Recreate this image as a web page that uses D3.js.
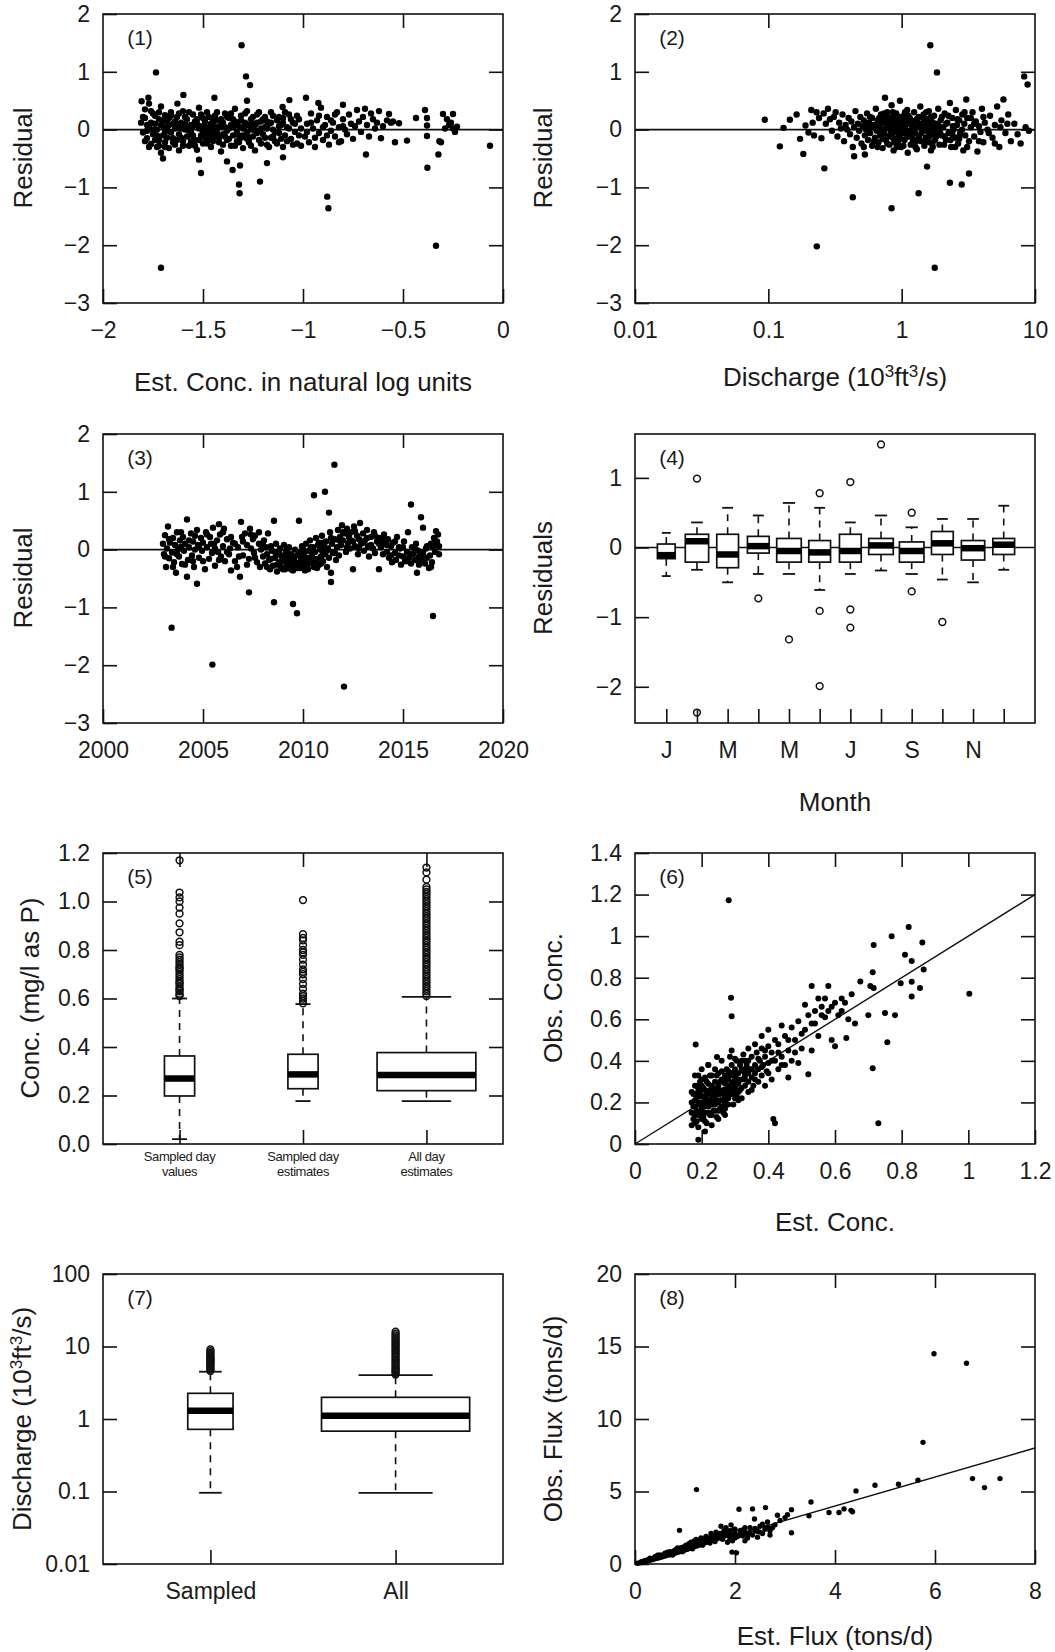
<!DOCTYPE html>
<html>
<head>
<meta charset="utf-8">
<script src="https://cdn.jsdelivr.net/npm/d3@7"></script>
<style>
    body { margin: 0; background: #fff; }
    svg text { font-family: "Liberation Sans", Arial, sans-serif; fill: #1a1a1a; }
    .tick text { font-size: 23px; }
    .title { font-size: 26px; }
    .plabel { font-size: 21px; }
</style>
</head>
<body>
<svg id="chart" width="1055" height="1652"></svg>
<script>
    // (1) residual vs est. conc (ln units)
    const p1Points = [
        [-1.81,0.12],[-1.80,-0.05],[-1.79,0.35],[-1.79,0.20],[-1.78,-0.15],[-1.77,0.05],[-1.77,0.45],[-1.76,-0.25],[-1.75,0.28],[-1.75,-0.08],
        [-1.74,0.10],[-1.73,-0.30],[-1.73,0.00],[-1.72,0.18],[-1.72,-0.18],[-1.71,0.40],[-1.71,-0.40],[-1.70,0.06],[-1.70,-0.10],[-1.69,0.25],
        [-1.69,-0.22],[-1.68,0.02],[-1.68,0.15],[-1.67,-0.32],[-1.66,-0.05],[-1.66,0.30],[-1.65,0.10],[-1.65,-0.15],[-1.64,-0.26],[-1.63,0.05],
        [-1.63,0.22],[-1.62,-0.08],[-1.62,-0.36],[-1.61,0.12],[-1.60,-0.20],[-1.60,0.32],[-1.59,0.00],[-1.58,-0.12],[-1.58,0.18],[-1.57,-0.28],
        [-1.56,0.08],[-1.56,-0.04],[-1.55,0.26],[-1.54,-0.18],[-1.54,0.14],[-1.53,-0.35],[-1.52,0.02],[-1.52,0.38],[-1.51,-0.10],[-1.50,0.20],
        [-1.50,-0.24],[-1.49,0.06],[-1.48,-0.06],[-1.48,0.30],[-1.47,-0.16],[-1.46,0.10],[-1.46,-0.30],[-1.45,0.00],[-1.44,0.24],[-1.44,-0.12],
        [-1.43,0.16],[-1.42,-0.22],[-1.42,0.04],[-1.41,-0.38],[-1.40,0.12],[-1.40,-0.08],[-1.39,0.28],[-1.38,-0.02],[-1.38,-0.18],[-1.37,0.20],
        [-1.36,0.08],[-1.36,-0.28],[-1.35,-0.10],[-1.34,0.14],[-1.34,0.36],[-1.33,-0.04],[-1.33,-0.20],[-1.32,0.06],[-1.31,0.24],[-1.31,-0.14],
        [-1.30,0.02],[-1.30,-0.32],[-1.29,0.12],[-1.28,-0.06],[-1.28,0.32],[-1.27,-0.22],[-1.26,0.18],[-1.26,0.00],[-1.25,-0.12],[-1.24,0.08],
        [-1.24,-0.36],[-1.23,0.26],[-1.22,-0.02],[-1.22,-0.18],[-1.21,0.14],[-1.20,-0.08],[-1.19,0.04],[-1.19,0.22],[-1.18,-0.26],[-1.17,0.10],
        [-1.16,-0.14],[-1.16,0.30],[-1.15,0.00],[-1.14,-0.20],[-1.13,0.16],[-1.12,-0.06],[-1.11,0.08],[-1.10,-0.30],[-1.10,0.20],[-1.09,-0.10],
        [-1.08,0.04],[-1.07,0.26],[-1.06,-0.16],[-1.05,0.12],[-1.04,-0.04],[-1.03,-0.24],[-1.02,0.18],[-1.01,0.02],
        [-1.78,-0.02],[-1.76,0.12],[-1.74,-0.18],[-1.71,0.08],[-1.69,-0.04],[-1.67,0.20],[-1.64,0.02],[-1.61,-0.14],[-1.59,0.10],[-1.57,-0.02],
        [-1.55,-0.10],[-1.53,0.18],[-1.51,0.06],[-1.49,-0.14],[-1.47,0.02],[-1.45,0.16],[-1.43,-0.06],[-1.41,0.08],[-1.39,-0.12],[-1.37,0.02],
        [-1.35,0.18],[-1.32,-0.10],[-1.29,0.06],[-1.27,-0.14],[-1.25,0.10],[-1.23,-0.06],[-1.21,0.02],[-1.18,0.14],[-1.15,-0.12],[-1.12,0.06],
        [-1.80,0.22],[-1.79,-0.20],[-1.78,0.08],[-1.77,-0.30],[-1.76,0.32],[-1.75,0.00],[-1.74,0.24],[-1.73,-0.10],[-1.72,0.30],[-1.72,-0.28],
        [-1.70,0.16],[-1.69,-0.30],[-1.68,-0.14],[-1.67,0.08],[-1.66,0.24],[-1.65,-0.22],[-1.64,0.14],[-1.63,-0.18],[-1.62,0.28],[-1.61,0.02],
        [-1.60,-0.28],[-1.59,0.22],[-1.58,0.04],[-1.57,0.30],[-1.56,-0.20],[-1.55,0.06],[-1.54,-0.28],[-1.53,0.10],[-1.52,-0.18],[-1.51,0.26],
        [-1.50,-0.04],[-1.49,0.14],[-1.48,-0.24],[-1.47,0.22],[-1.46,-0.08],[-1.45,-0.20],[-1.44,0.06],[-1.43,0.30],[-1.42,-0.14],[-1.41,0.18],
        [-1.40,-0.26],[-1.39,0.04],[-1.38,0.22],[-1.37,-0.16],[-1.36,0.28],[-1.35,0.04],[-1.34,-0.28],[-1.33,0.12],[-1.32,-0.22],[-1.31,0.16],
        [-1.30,-0.10],[-1.29,0.28],[-1.28,-0.16],[-1.27,0.08],[-1.26,-0.28],[-1.25,0.22],[-1.24,-0.02],[-1.23,0.12],[-1.22,0.30],[-1.21,-0.24],
        [-1.20,0.18],[-1.19,-0.14],[-1.18,0.02],[-1.17,-0.30],[-1.16,0.12],[-1.15,0.24],[-1.14,-0.04],[-1.13,-0.24],[-1.12,0.22],[-1.11,-0.16],
        [-1.10,0.12],[-1.09,0.30],[-1.08,-0.20],[-1.07,0.02],[-1.06,0.18],[-1.05,-0.26],[-1.04,0.10],[-1.03,0.24],[-1.02,-0.10],[-1.01,-0.28],
        [-0.98,-0.04],[-0.96,0.12],[-0.94,-0.14],[-0.92,0.24],[-0.90,0.04],[-0.88,-0.10],[-0.86,0.16],[-0.84,0.26],[-0.82,-0.22],[-0.80,0.06],
        [-1.735,0.99],[-1.71,-2.39],[-1.307,1.46],[-1.285,0.92],[-1.265,0.77],[-1.773,0.55],[-1.807,0.49],[-1.598,0.60],[-1.443,0.55],[-1.628,0.45],
        [-1.28,0.50],[-1.51,-0.75],[-1.352,-0.70],[-1.315,-0.62],[-1.32,-0.95],[-1.317,-1.10],[-1.215,-0.90],[-1.70,-0.50],[-1.52,-0.52],[-1.38,-0.55],
        [-1.18,-0.58],[-1.10,-0.48],[-1.102,0.39],[-1.068,0.51],[-0.985,0.55],[-0.923,0.46],[-0.80,0.43],
        [-0.99,-0.12],[-0.98,0.10],[-0.97,-0.22],[-0.96,0.28],[-0.95,0.02],[-0.94,-0.30],[-0.93,0.16],[-0.92,-0.06],[-0.91,0.38],[-0.90,-0.18],
        [-0.89,0.08],[-0.88,0.22],[-0.87,-0.26],[-0.86,-0.02],[-0.85,0.12],[-0.84,-0.12],[-0.83,0.30],[-0.82,0.04],[-0.81,-0.20],[-0.80,0.18],
        [-0.79,0.00],[-0.78,-0.08],[-0.77,0.26],[-0.76,0.10],[-0.75,-0.16],[-0.74,0.06],[-0.73,0.34],[-0.72,0.14],[-0.71,-0.04],[-0.70,0.22],
        [-0.69,0.36],[-0.68,0.08],[-0.67,-0.12],[-0.66,0.28],[-0.65,0.18],[-0.64,0.02],[-0.63,0.12],[-0.62,0.32],[-0.61,-0.15],[-0.60,0.06],
        [-0.58,0.16],[-0.57,0.27],[-0.56,0.12],[-0.55,0.14],[-0.54,-0.22],[-0.52,0.11],[-0.48,-0.19],[-0.685,-0.43],[-0.879,-1.16],[-0.873,-1.36],
        [-0.435,0.20],[-0.39,0.34],[-0.38,0.20],[-0.38,0.07],[-0.38,-0.11],[-0.378,-0.66],[-0.335,-2.01],[-0.323,-0.43],[-0.318,-0.20],[-0.30,0.27],
        [-0.28,0.18],[-0.27,0.08],[-0.26,0.12],[-0.25,0.27],[-0.25,0.02],[-0.24,-0.04],[-0.23,0.05],[-0.065,-0.28],[-0.31,-0.22],[-0.29,0.02]
    ];

    // (2) residual vs discharge (10^3 ft3/s)
    const p2Points = [
        [0.094,0.17],[0.122,-0.29],[0.13,0.03],[0.145,0.17],[0.163,0.26],[0.173,-0.16],[0.183,-0.42],[0.19,0.07],[0.20,-0.05],[0.21,0.34],
        [0.215,0.12],[0.22,-0.10],[0.23,0.30],[0.231,-2.02],[0.24,0.20],[0.25,-0.15],[0.26,0.28],[0.263,-0.67],[0.27,0.10],[0.28,0.36],
        [0.29,0.18],[0.30,-0.02],[0.31,0.22],[0.32,0.30],
        [0.33,-0.12],[0.34,0.12],[0.35,0.02],[0.36,0.26],[0.37,-0.20],[0.38,0.08],[0.39,0.00],[0.40,0.20],[0.41,-0.08],[0.42,0.14],
        [0.43,-1.17],[0.43,-0.30],[0.44,-0.46],[0.44,0.04],[0.45,0.32],[0.46,-0.14],[0.47,0.10],[0.48,-0.02],[0.49,0.22],[0.50,-0.24],
        [0.51,0.06],[0.52,0.16],[0.53,-0.43],[0.53,-0.10],[0.54,0.00],[0.55,0.28],[0.56,-0.18],[0.57,0.12],[0.58,-0.06],[0.59,0.04],
        [0.60,-0.28],[0.60,0.20],
        [0.62,0.08],[0.63,-0.14],[0.64,0.36],[0.65,-0.02],[0.66,0.16],[0.67,-0.22],[0.68,0.06],[0.69,-0.10],[0.70,0.26],[0.71,0.00],
        [0.72,-0.32],[0.73,0.12],[0.74,-0.06],[0.75,0.55],[0.75,0.20],[0.76,-0.18],[0.77,0.04],[0.78,0.30],[0.79,-0.12],[0.80,0.10],
        [0.81,-0.26],[0.82,0.16],[0.83,-0.02],[0.84,-1.36],[0.84,0.42],[0.85,-0.08],[0.86,0.22],[0.87,-0.36],[0.88,0.02],[0.89,0.12],
        [0.90,-0.16],[0.91,0.28],[0.92,-0.04],[0.93,0.08],[0.94,-0.24],[0.95,0.18],[0.96,-0.10],[0.97,0.50],[0.98,0.04],[0.99,-0.30],
        [1.00,0.14],[1.02,-0.06],[1.04,0.24],[1.05,-0.18],[1.06,0.06],[1.08,-0.02],[1.10,0.34],[1.11,-0.40],[1.12,0.10],[1.14,-0.12],
        [1.15,0.20],[1.17,-0.26],[1.18,0.00],
        [1.20,0.08],[1.22,-0.16],[1.24,0.30],[1.26,-0.06],[1.28,0.14],[1.30,-0.34],[1.32,0.04],[1.34,-1.10],[1.34,0.22],[1.36,-0.10],
        [1.38,0.40],[1.40,-0.20],[1.42,0.10],[1.44,-0.02],[1.46,0.26],[1.48,-0.28],[1.50,0.06],[1.52,-0.14],[1.55,-0.64],[1.55,0.18],
        [1.58,-0.04],[1.60,0.32],[1.62,-0.22],[1.64,1.46],[1.64,0.08],[1.66,-0.36],[1.68,0.14],[1.70,-0.08],[1.72,0.02],[1.75,0.24],
        [1.77,-2.39],[1.78,-0.18],[1.80,0.10],[1.84,0.99],[1.84,-0.02],[1.88,0.36],[1.92,-0.26],[1.96,0.16],[2.00,-0.10],[2.05,0.04],
        [2.10,0.28],[2.15,-0.18],[2.20,0.12],[2.25,-0.06],[2.30,-0.92],[2.30,0.46],[2.35,-0.30],[2.40,0.20],[2.45,0.00],[2.50,-0.14],
        [2.55,0.34],[2.60,0.08],[2.65,-0.24],[2.70,0.16],[2.75,-0.04],[2.82,-0.95],[2.85,0.26],[2.90,-0.36],[2.95,0.10],
        [0.70,-0.08],[0.78,0.12],[0.86,-0.14],[0.95,0.02],[1.05,0.16],[1.16,-0.08],[1.28,-0.20],[1.40,0.04],[1.52,0.14],[1.70,-0.24],
        [1.90,0.06],[2.10,-0.12],[2.40,-0.08],[2.70,-0.16],
        [0.52,-0.30],[0.55,0.10],[0.58,0.22],[0.62,-0.20],[0.64,0.02],[0.66,-0.30],[0.68,0.20],[0.70,0.12],[0.72,-0.16],[0.74,0.28],
        [0.76,0.02],[0.78,-0.24],[0.80,0.20],[0.82,-0.10],[0.84,0.06],[0.86,0.30],[0.88,-0.22],[0.90,0.14],[0.92,-0.30],[0.94,0.04],
        [0.96,0.22],[0.98,-0.16],[1.00,0.00],[1.03,-0.28],[1.06,0.30],[1.09,-0.12],[1.12,0.24],[1.15,-0.04],[1.18,0.16],[1.21,-0.22],
        [1.24,0.04],[1.27,-0.30],[1.30,0.18],[1.33,-0.16],[1.37,0.10],[1.41,-0.06],[1.45,0.20],[1.49,-0.20],[1.53,0.30],[1.57,0.00],
        [1.61,-0.12],[1.66,0.22],[1.71,-0.30],[1.76,0.10],[1.82,-0.12],[1.88,0.06],[1.94,-0.06],[2.00,0.22],[2.08,-0.26],[2.16,0.10],
        [2.24,0.24],[2.32,-0.18],[2.42,0.06],[2.52,-0.30],[2.62,0.18],[2.72,-0.10],[2.84,0.00],[2.96,0.30],[3.10,-0.30],[3.30,0.20],
        [3.50,0.10],[3.80,-0.20],[4.10,0.22],[4.50,-0.06],[5.00,-0.24],[5.50,0.04],[6.20,0.10],
        [3.00,-0.10],[3.05,0.52],[3.10,0.20],[3.20,-0.76],[3.20,-0.20],[3.30,0.04],[3.40,0.30],[3.50,-0.12],[3.60,0.14],[3.70,-0.38],
        [3.80,0.06],[3.90,-0.04],[4.00,0.36],[4.10,-0.22],[4.20,0.12],[4.40,0.00],[4.60,0.24],[4.80,-0.14],[5.00,0.08],[5.20,0.40],
        [5.40,-0.30],[5.60,0.16],[5.80,0.52],[6.00,-0.06],[6.30,0.26],[6.60,-0.20],[7.00,0.10],[7.40,-0.08],[7.80,-0.24],[8.30,0.92],
        [8.80,0.78],[8.50,0.04],[9.00,-0.02]
    ];

    // (3) residual vs decimal year
    const p3Points = [
        [2003.0,0.10],[2003.05,-0.08],[2003.1,0.25],[2003.15,-0.30],[2003.2,0.02],[2003.25,0.40],[2003.3,-0.15],[2003.35,0.12],[2003.43,-1.35],[2003.45,-0.05],
        [2003.5,0.20],[2003.55,-0.22],[2003.6,0.08],[2003.65,-0.40],[2003.7,0.30],[2003.75,0.00],[2003.8,-0.12],[2003.85,0.16],[2003.9,0.05],[2003.95,-0.25],
        [2004.0,0.22],[2004.05,-0.02],[2004.1,0.10],[2004.2,-0.47],[2004.2,0.52],[2004.25,-0.18],[2004.3,0.04],[2004.4,0.28],[2004.45,-0.10],[2004.5,0.14],
        [2004.55,-0.30],[2004.6,0.00],[2004.7,-0.59],[2004.7,0.34],[2004.75,0.08],[2004.8,-0.14],[2004.9,0.20],[2004.95,-0.02],
        [2005.0,0.12],[2005.1,-0.34],[2005.15,0.30],[2005.2,0.04],[2005.3,-0.16],[2005.35,0.22],[2005.47,-1.99],[2005.45,-0.06],[2005.5,0.38],[2005.55,0.10],
        [2005.6,-0.28],[2005.7,0.16],[2005.75,-0.04],[2005.8,0.44],[2005.85,0.26],[2005.9,-0.12],[2006.0,0.06],[2006.05,0.36],[2006.1,-0.20],[2006.2,0.18],
        [2006.3,-0.08],[2006.35,0.02],[2006.4,-0.36],[2006.5,0.12],[2006.6,-0.20],[2006.7,-0.30],[2006.75,0.04],[2006.85,-0.47],[2006.9,0.48],[2006.95,0.22],
        [2007.0,-0.10],[2007.1,0.28],[2007.2,0.08],[2007.3,-0.74],[2007.3,-0.16],[2007.35,0.36],[2007.4,0.02],[2007.5,0.18],[2007.55,-0.06],[2007.6,0.24],
        [2007.7,-0.22],[2007.8,0.10],[2007.85,-0.30],[2007.9,0.00],
        [2008.0,-0.12],[2008.05,0.16],[2008.1,-0.24],[2008.15,0.04],[2008.2,-0.08],[2008.25,0.28],[2008.3,-0.18],[2008.35,-0.34],[2008.4,0.06],[2008.45,-0.02],
        [2008.5,-0.28],[2008.55,-0.91],[2008.55,0.50],[2008.6,-0.14],[2008.65,0.10],[2008.7,-0.38],[2008.75,-0.06],[2008.8,-0.22],[2008.85,0.02],[2008.9,-0.30],
        [2008.95,-0.12],[2009.0,-0.20],[2009.05,0.08],[2009.1,-0.34],[2009.15,-0.04],[2009.2,-0.26],[2009.25,-0.14],[2009.3,0.04],[2009.35,-0.30],[2009.4,-0.08],
        [2009.45,-0.22],[2009.5,-0.94],[2009.5,-0.36],[2009.55,-0.16],[2009.6,0.00],[2009.65,-0.28],[2009.7,-1.10],[2009.7,-0.10],[2009.75,-0.24],[2009.8,0.50],
        [2009.85,-0.32],[2009.9,-0.18],[2009.95,0.06],[2010.0,-0.26],[2010.05,-0.06],[2010.1,-0.20],[2010.15,0.10],[2010.2,-0.14],[2010.25,-0.34],[2010.3,-0.02],
        [2010.35,0.16],[2010.4,-0.22],[2010.45,-0.10],[2010.5,0.04],[2010.55,0.94],[2010.55,-0.30],[2010.6,-0.04],[2010.65,0.20],[2010.7,-0.16],[2010.75,0.08],
        [2010.8,-0.26],[2010.85,0.00],[2010.9,-0.12],[2010.95,0.24],[2011.0,-0.20],[2011.05,0.06],[2011.1,1.00],[2011.1,-0.08],[2011.15,0.14],[2011.2,-0.30],
        [2011.25,0.02],[2011.3,0.64],[2011.3,-0.14],[2011.35,0.30],[2011.4,-0.56],[2011.4,-0.40],[2011.45,0.10],[2011.5,-0.06],[2011.57,1.47],[2011.6,0.18],
        [2011.65,-0.18],[2009.3,-0.20],[2009.9,-0.28],[2010.2,-0.30],[2010.6,-0.20],[2008.8,-0.04],[2010.0,-0.10],[2011.0,-0.04],
        [2011.7,0.04],[2011.75,0.34],[2011.8,-0.10],[2011.85,0.22],[2011.9,0.08],[2011.95,0.42],[2012.05,-2.37],[2012.0,0.16],[2012.1,0.28],[2012.15,-0.04],
        [2012.2,0.36],[2012.25,0.12],[2012.3,0.22],[2012.35,0.02],[2012.4,0.30],[2012.5,-0.34],[2012.5,0.14],[2012.55,0.40],[2012.6,0.06],[2012.7,0.24],
        [2012.75,-0.08],[2012.8,0.18],[2012.85,0.46],[2012.9,0.10],[2013.0,0.28],[2013.05,-0.02],[2013.1,0.16],[2013.2,0.34],[2013.25,0.06],[2013.3,-0.12],
        [2013.4,0.22],[2013.5,0.02],[2013.55,0.30],[2013.6,-0.06],[2013.7,0.14],[2013.8,-0.34],[2013.8,0.20],[2013.9,0.04],[2014.0,-0.08],
        [2014.05,0.26],[2014.1,0.10],[2014.2,-0.04],[2014.25,0.18],[2014.3,-0.14],[2014.4,0.06],[2014.45,-0.22],[2014.5,0.12],[2014.6,-0.06],[2014.65,-0.18],
        [2014.7,0.22],[2014.8,-0.10],[2014.85,0.02],[2014.9,-0.26],[2015.0,-0.12],[2015.05,0.14],[2015.1,-0.20],[2015.2,-0.04],[2015.25,0.30],[2015.3,-0.14],
        [2015.4,0.78],[2015.4,-0.24],[2015.45,0.04],[2015.5,-0.08],[2015.6,-0.18],[2015.65,0.10],[2015.7,-0.40],[2015.75,-0.02],[2015.8,-0.12],[2015.9,0.56],
        [2015.9,-0.20],[2016.0,0.38],[2016.0,-0.06],[2016.1,-0.24],[2016.15,0.02],[2016.2,-0.14],[2016.3,-0.32],[2016.35,-0.10],[2016.4,0.10],[2016.45,-0.22],
        [2016.5,-1.15],[2016.5,0.04],[2016.55,0.20],[2016.6,-0.04],[2016.65,0.32],[2016.7,0.14],[2016.75,0.26],[2016.8,-0.08],
        [2003.1,-0.12],[2003.3,0.18],[2003.5,-0.30],[2003.7,-0.08],[2003.9,0.30],[2004.1,-0.26],[2004.3,0.16],[2004.5,-0.20],[2004.6,0.24],[2004.8,0.06],
        [2005.0,-0.20],[2005.2,0.26],[2005.4,0.10],[2005.6,0.02],[2005.8,-0.18],[2006.0,0.30],[2006.2,-0.04],[2006.4,0.22],[2006.6,0.10],[2006.8,-0.12],
        [2007.0,0.14],[2007.2,-0.26],[2007.4,0.26],[2007.6,-0.14],[2007.8,0.30],[2008.0,0.08],[2008.2,-0.30],[2008.4,-0.16],[2008.6,-0.04],[2008.7,-0.26],
        [2008.9,-0.10],[2009.0,-0.34],[2009.1,-0.12],[2009.2,0.00],[2009.4,-0.34],[2009.6,-0.22],[2009.7,-0.32],[2009.8,-0.06],[2010.0,0.02],[2010.1,-0.36],
        [2010.3,-0.24],[2010.4,0.04],[2010.5,-0.18],[2010.7,-0.32],[2010.8,0.12],[2010.9,-0.24],[2011.0,0.12],[2011.2,-0.02],[2011.4,0.20],[2011.6,-0.06],
        [2011.8,0.16],[2012.0,0.30],[2012.2,0.04],[2012.4,0.16],[2012.6,0.32],[2012.8,0.02],[2013.0,0.12],[2013.2,0.20],[2013.4,0.08],[2013.6,0.24],
        [2013.8,0.10],[2014.0,0.18],[2014.2,0.08],[2014.4,-0.10],[2014.6,0.14],[2014.8,0.04],[2015.0,0.04],[2015.2,-0.20],[2015.4,-0.08],[2015.6,0.02],
        [2015.8,-0.26],[2016.0,-0.16],[2016.2,0.06],[2016.4,-0.30],[2016.6,0.10],[2016.8,0.06]
    ];

    // (4) residuals by month
    const p4Months = ["J", "F", "M", "A", "M", "J", "J", "A", "S", "O", "N", "D"];
    const p4Shown = ["J", "", "M", "", "M", "", "J", "", "S", "", "N", ""];
    const p4N = [22, 38, 33, 33, 42, 33, 33, 42, 42, 33, 38, 33];
    const p4Lo = [-0.41, -0.32, -0.50, -0.38, -0.38, -0.61, -0.38, -0.33, -0.38, -0.46, -0.50, -0.32];
    const p4Q1 = [-0.16, -0.21, -0.29, -0.08, -0.21, -0.21, -0.21, -0.10, -0.21, -0.10, -0.18, -0.10];
    const p4Med = [-0.11, 0.09, -0.10, 0.02, -0.05, -0.07, -0.05, 0.03, -0.05, 0.06, -0.01, 0.04];
    const p4Q3 = [0.05, 0.19, 0.19, 0.16, 0.13, 0.10, 0.19, 0.13, 0.08, 0.23, 0.10, 0.13];
    const p4Hi = [0.21, 0.36, 0.57, 0.46, 0.64, 0.57, 0.36, 0.46, 0.29, 0.41, 0.41, 0.60];
    const p4Out = [[], [0.99, -2.37], [], [-0.73], [-1.32], [0.78, -0.91, -1.99], [0.94, -0.89, -1.15], [1.48], [0.50, -0.63], [-1.07], [], []];

    // (5) concentration boxplots
    const p5Groups = [["Sampled day", "values"], ["Sampled day", "estimates"], ["All day", "estimates"]];
    const p5N = [430, 430, 4600];
    const p5Lo = [0.02, 0.177, 0.177];
    const p5Q1 = [0.198, 0.228, 0.22];
    const p5Med = [0.27, 0.287, 0.285];
    const p5Q3 = [0.363, 0.37, 0.377];
    const p5Hi = [0.60, 0.577, 0.607];
    const p5Out = [
        [0.61,0.615,0.62,0.63,0.635,0.64,0.65,0.66,0.665,0.67,0.68,0.69,0.70,0.71,0.72,0.725,0.73,0.74,0.75,0.76,0.77,0.78,0.82,0.834,0.873,0.91,0.95,0.975,1.0,1.017,1.037,1.17],
        [0.58,0.59,0.60,0.61,0.62,0.64,0.66,0.68,0.70,0.71,0.72,0.74,0.76,0.78,0.79,0.80,0.82,0.84,0.85,0.865,1.006],
        [0.61,0.62,0.63,0.64,0.65,0.66,0.67,0.68,0.69,0.70,0.71,0.72,0.73,0.74,0.75,0.76,0.77,0.78,0.79,0.80,0.81,0.82,0.83,0.84,0.85,
         0.86,0.87,0.88,0.89,0.90,0.91,0.92,0.93,0.94,0.95,0.96,0.97,0.98,0.99,1.00,1.01,1.02,1.03,1.04,1.05,1.06,1.09,1.12,1.14]
    ];

    // (6) observed vs estimated concentration
    const p6Points = [
        [0.17,0.20],[0.17,0.15],[0.175,0.24],[0.175,0.12],[0.18,0.18],[0.18,0.28],[0.18,0.10],[0.185,0.22],[0.185,0.16],[0.19,0.02],
        [0.19,0.26],[0.19,0.14],[0.195,0.20],[0.195,0.30],[0.20,0.17],[0.20,0.23],[0.20,0.12],[0.205,0.27],[0.205,0.19],[0.21,0.15],
        [0.21,0.32],[0.21,0.22],[0.215,0.10],[0.215,0.25],[0.22,0.18],[0.22,0.29],[0.22,0.38],[0.225,0.21],[0.225,0.14],[0.23,0.24],
        [0.23,0.33],[0.23,0.19],[0.235,0.27],[0.235,0.16],[0.24,0.22],[0.24,0.30],[0.24,0.36],[0.245,0.13],[0.245,0.25],[0.25,0.20],
        [0.25,0.28],[0.25,0.34],[0.255,0.17],[0.255,0.24],[0.26,0.31],[0.26,0.21],[0.26,0.40],[0.265,0.26],[0.265,0.15],[0.27,0.23],
        [0.27,0.33],[0.27,0.29],[0.275,0.19],[0.275,0.36],[0.28,0.26],[0.28,0.31],[0.28,0.22],[0.285,0.42],[0.285,0.28],[0.29,0.34],
        [0.29,0.24],[0.29,0.45],[0.295,0.30],[0.295,0.19],[0.30,0.27],[0.30,0.36],[0.30,0.32],[0.305,0.23],[0.305,0.40],[0.31,0.29],
        [0.31,0.34],[0.315,0.26],[0.315,0.38],[0.32,0.31],[0.32,0.22],[0.325,0.35],[0.325,0.43],[0.33,0.28],[0.33,0.33],[0.335,0.38],
        [0.34,0.30],[0.34,0.25],[0.345,0.36],[0.35,0.42],[0.35,0.32],[0.355,0.28],[0.36,0.38],[0.36,0.34],[0.365,0.44],[0.37,0.30],
        [0.37,0.36],[0.375,0.40],[0.38,0.33],[0.38,0.46],[0.385,0.38],[0.39,0.28],[0.39,0.42],[0.395,0.35],[0.40,0.39],[0.40,0.47],
        [0.41,0.31],[0.41,0.44],[0.415,0.12],[0.42,0.10],[0.42,0.40],[0.43,0.36],[0.43,0.48],[0.44,0.42],[0.45,0.38],[0.45,0.52],
        [0.46,0.32],[0.46,0.45],[0.47,0.56],[0.47,0.40],[0.48,0.50],[0.49,0.39],[0.49,0.59],[0.50,0.46],[0.50,0.53],[0.51,0.67],
        [0.52,0.335],[0.52,0.62],[0.53,0.45],[0.53,0.58],[0.53,0.76],[0.54,0.64],[0.55,0.70],[0.55,0.52],[0.56,0.66],[0.57,0.61],
        [0.58,0.76],[0.58,0.64],[0.59,0.50],[0.60,0.47],[0.60,0.68],[0.61,0.62],[0.62,0.70],[0.634,0.51],[0.64,0.60],[0.65,0.72],
        [0.66,0.58],[0.676,0.782],[0.70,0.62],[0.706,0.76],[0.713,0.826],[0.713,0.365],[0.716,0.957],[0.716,0.75],[0.73,0.10],[0.75,0.63],
        [0.757,0.49],[0.77,1.0],[0.78,0.62],[0.797,0.773],[0.81,0.91],[0.821,1.044],[0.83,0.88],[0.83,0.78],[0.83,0.71],[0.855,0.75],
        [0.862,0.97],[0.866,0.84],[1.003,0.723],[0.281,1.173],[0.182,0.479],[0.288,0.704],[0.29,0.615],[0.246,0.418],[0.22,0.38],
        [0.18,0.24],[0.19,0.19],[0.20,0.28],[0.21,0.18],[0.22,0.24],[0.23,0.14],[0.24,0.19],[0.25,0.24],[0.26,0.18],[0.27,0.20],
        [0.28,0.35],[0.29,0.29],[0.30,0.22],[0.31,0.25],[0.32,0.36],[0.33,0.40],[0.34,0.46],[0.19,0.08],[0.21,0.06],[0.23,0.09],
        [0.25,0.12],[0.27,0.14],[0.18,0.33],[0.20,0.36],[0.35,0.26],[0.36,0.48],[0.38,0.52],[0.40,0.55],[0.42,0.50],[0.44,0.57],
        [0.17,0.25],[0.17,0.09],[0.175,0.18],[0.18,0.14],[0.18,0.21],[0.185,0.28],[0.185,0.11],[0.19,0.23],[0.19,0.33],[0.195,0.15],
        [0.195,0.25],[0.20,0.20],[0.20,0.31],[0.205,0.13],[0.205,0.23],[0.21,0.26],[0.21,0.11],[0.215,0.20],[0.215,0.30],[0.22,0.15],
        [0.22,0.21],[0.225,0.26],[0.225,0.33],[0.23,0.21],[0.23,0.28],[0.235,0.19],[0.235,0.23],[0.24,0.26],[0.24,0.16],[0.245,0.33],
        [0.245,0.21],[0.25,0.26],[0.25,0.16],[0.255,0.30],[0.255,0.21],[0.26,0.25],[0.26,0.35],[0.265,0.21],[0.265,0.30],[0.27,0.26],
        [0.27,0.17],[0.275,0.25],[0.275,0.31],[0.28,0.28],[0.28,0.19],[0.285,0.24],[0.285,0.33],[0.29,0.26],[0.29,0.38],[0.295,0.25],
        [0.295,0.34],[0.30,0.29],[0.30,0.41],[0.31,0.31],[0.31,0.21],[0.32,0.27],[0.32,0.40],[0.33,0.31],[0.33,0.36],[0.34,0.34],
        [0.34,0.40],[0.35,0.36],[0.36,0.31],[0.37,0.41],[0.38,0.37],[0.39,0.45],[0.40,0.34],[0.41,0.40],[0.43,0.44],[0.44,0.38],
        [0.46,0.50],[0.48,0.44],[0.51,0.55],[0.54,0.58],[0.56,0.62],[0.57,0.70],[0.59,0.66],[0.62,0.64],[0.63,0.68]
    ];

    // (7) discharge boxplots (log scale)
    const p7Groups = ["Sampled", "All"];
    const p7N = [430, 4600];
    const p7Lo = [0.096, 0.096];
    const p7Q1 = [0.72, 0.68];
    const p7Med = [1.30, 1.11];
    const p7Q3 = [2.26, 1.99];
    const p7Hi = [4.49, 4.04];
    const p7Out = [
        [4.6,4.8,5.0,5.2,5.4,5.6,5.8,6.0,6.2,6.4,6.6,6.8,7.0,7.3,7.6,7.9,8.2,8.6,9.1],
        [4.1,4.3,4.5,4.7,4.9,5.1,5.4,5.7,6.0,6.3,6.6,7.0,7.4,7.8,8.2,8.6,9.0,9.5,10,10.5,11,11.6,12.2,12.8,13.5,14.2,15,16]
    ];

    // (8) observed vs estimated flux
    const p8Points = [
        [0.05,0.05],[0.1,0.08],[0.12,0.15],[0.15,0.12],[0.18,0.2],[0.2,0.16],[0.22,0.25],[0.25,0.22],[0.28,0.3],[0.3,0.26],
        [0.32,0.35],[0.35,0.3],[0.38,0.4],[0.4,0.36],[0.42,0.45],[0.45,0.4],[0.48,0.5],[0.5,0.44],[0.52,0.58],[0.55,0.5],
        [0.58,0.62],[0.6,0.55],[0.62,0.7],[0.65,0.6],[0.68,0.74],[0.7,0.64],[0.72,0.8],[0.75,0.68],[0.78,0.9],[0.8,0.74],
        [0.82,0.98],[0.85,0.8],[0.88,1.05],[0.89,2.32],[0.9,0.86],[0.92,1.12],[0.95,0.9],[0.98,1.2],[1.0,0.96],[1.02,1.3],
        [1.05,1.02],[1.08,1.4],[1.1,1.08],[1.12,1.5],[1.15,1.14],[1.18,1.58],[1.2,1.2],[1.22,1.7],[1.23,5.13],[1.25,1.26],
        [1.28,1.62],[1.3,1.32],[1.32,1.8],[1.35,1.4],[1.38,1.72],[1.4,1.46],[1.42,1.9],[1.45,1.52],[1.48,1.8],[1.5,1.58],
        [1.52,2.1],[1.55,1.64],[1.58,1.92],[1.6,1.7],[1.62,2.2],[1.65,1.76],[1.68,2.0],[1.7,1.82],[1.72,2.6],[1.75,1.9],
        [1.78,2.3],[1.8,1.96],[1.82,2.5],[1.85,1.5],[1.88,2.2],[1.9,2.06],[1.92,2.7],[1.94,0.82],[1.95,1.6],[1.98,2.4],
        [2.0,2.1],[2.03,0.77],[2.05,1.9],[2.08,3.78],[2.1,2.3],[2.15,1.95],[2.2,2.2],[2.25,1.8],[2.3,2.5],[2.35,3.8],
        [2.35,2.0],[2.39,3.1],[2.4,2.3],[2.45,1.85],[2.5,2.6],[2.55,2.1],[2.61,3.89],[2.6,2.4],[2.65,2.9],[2.7,2.0],
        [2.75,2.5],[2.85,3.36],[2.9,3.0],[3.0,3.2],[3.05,3.4],[3.13,3.75],[3.13,2.16],[3.48,3.32],[3.52,4.28],[3.88,3.55],
        [4.08,3.55],[4.18,3.8],[4.32,3.7],[4.35,3.6],[4.42,5.04],[4.8,5.43],[5.27,5.5],[5.66,5.78],[5.76,8.39],[5.98,14.5],
        [6.63,13.85],[6.75,5.89],[6.99,5.27],[7.30,5.89],
        [0.3,0.4],[0.4,0.5],[0.5,0.62],[0.6,0.75],[0.7,0.85],[0.8,0.95],[0.9,1.0],[1.0,1.15],[1.1,1.3],[1.2,1.45],
        [1.3,1.55],[1.4,1.65],[1.5,1.75],[1.6,1.9],[1.7,2.1],[1.8,2.2],[0.45,0.6],[0.65,0.82],[0.85,1.1],[1.05,1.25],
        [1.25,1.5],[1.45,1.7],[1.65,1.95],[1.85,2.05],[2.0,1.8],[2.1,2.0],[2.2,2.5],[2.3,2.15],[2.45,2.25],[2.55,2.75],
        [2.7,2.3],[2.2,1.6],[1.9,1.75],
        [0.15,0.18],[0.2,0.22],[0.25,0.28],[0.3,0.33],[0.35,0.37],[0.4,0.44],[0.45,0.5],[0.5,0.55],[0.55,0.6],[0.6,0.66],
        [0.65,0.72],[0.7,0.76],[0.75,0.82],[0.8,0.86],[0.85,0.92],[0.9,0.96],[0.95,1.05],[1.0,1.08],[1.05,1.15],[1.1,1.2],
        [1.15,1.28],[1.2,1.32],[1.25,1.38],[1.3,1.44],[1.35,1.5],[1.4,1.56],[1.45,1.6],[1.5,1.66],[1.55,1.72],[1.6,1.8],
        [1.65,1.85],[1.7,1.9],[1.75,2.0],[1.8,2.05],[1.85,2.15],[1.9,2.3],[1.95,2.0],[2.0,2.4],[1.75,1.7],[1.6,1.55],
        [1.5,1.45],[1.35,1.3],[1.15,1.05],[0.95,0.85],[0.75,0.62],[2.15,2.35],[2.25,2.05],[2.4,2.45],[2.5,2.2],[2.65,2.55],
        [2.8,2.7]
    ];

    const svg = d3.select("#chart");
    const W = 400;
    const TICK = 14;
    const INK = "#111";

    function panel(left, top) {
        return svg.append("g").attr("transform", `translate(${left},${top})`);
    }

    function frame(g, x, y, h, o) {
        g.append("g")
            .attr("transform", `translate(0,${h})`)
            .call(d3.axisBottom(x).tickValues(o.xTicks).tickFormat(o.xFmt).tickSize(-TICK).tickPadding(o.xPad || 19));
        g.append("g")
            .call(d3.axisLeft(y).tickValues(o.yTicks).tickFormat(o.yFmt).tickSize(-TICK).tickPadding(13));
        if (o.top)
            g.append("g").call(d3.axisTop(x).tickValues(o.top).tickFormat("").tickSize(-TICK));
        if (o.right)
            g.append("g").attr("transform", `translate(${W},0)`)
                .call(d3.axisRight(y).tickValues(o.right).tickFormat("").tickSize(-TICK));
        g.selectAll(".domain").remove();
        g.selectAll(".tick line").attr("stroke", INK).attr("stroke-width", 1.6);
        g.append("rect").attr("width", W).attr("height", h)
            .attr("fill", "none").attr("stroke", INK).attr("stroke-width", 1.6);
        g.append("text").attr("class", "plabel")
            .attr("x", 37).attr("y", 31).attr("text-anchor", "middle")
            .text(o.label);
    }

    function zeroLine(g, y) {
        g.append("line").attr("x1", 0).attr("x2", W)
            .attr("y1", y(0)).attr("y2", y(0))
            .attr("stroke", INK).attr("stroke-width", 1.6);
    }

    function dots(g, x, y, pts, r) {
        g.append("g").selectAll("circle").data(pts).join("circle")
            .attr("cx", d => x(d[0])).attr("cy", d => y(d[1]))
            .attr("r", r).attr("fill", "#000");
    }

    function xTitle(parts, cx, base) {
        const t = svg.append("text").attr("class", "title")
            .attr("x", cx).attr("y", base).attr("text-anchor", "middle");
        addParts(t, parts);
    }

    function yTitle(parts, cx, cy) {
        const t = svg.append("text").attr("class", "title")
            .attr("transform", `translate(${cx + 9},${cy}) rotate(-90)`)
            .attr("text-anchor", "middle");
        addParts(t, parts);
    }

    // parts: strings, or {sup: "3"}
    function addParts(t, parts) {
        let raised = false;
        parts.forEach(p => {
            if (typeof p === "string") {
                t.append("tspan").attr("dy", raised ? 9 : 0).text(p);
                raised = false;
            } else {
                t.append("tspan").attr("dy", raised ? 0 : -9).attr("font-size", 17).text(p.sup);
                raised = true;
            }
        });
    }

    function boxes(g, x, y, s) {
        const unit = x(1) - x(0);
        const nMax = d3.max(s.n);
        s.med.forEach((m, i) => {
            const cx = x(i + 1);
            const bw = 0.8 * Math.sqrt(s.n[i] / nMax) * unit;
            const b = g.append("g");
            b.append("line").attr("x1", cx).attr("x2", cx)
                .attr("y1", y(s.q3[i])).attr("y2", y(s.hi[i]))
                .attr("stroke", INK).attr("stroke-width", 1.6).attr("stroke-dasharray", "7,6");
            b.append("line").attr("x1", cx).attr("x2", cx)
                .attr("y1", y(s.q1[i])).attr("y2", y(s.lo[i]))
                .attr("stroke", INK).attr("stroke-width", 1.6).attr("stroke-dasharray", "7,6");
            [s.hi[i], s.lo[i]].forEach(v => {
                b.append("line").attr("x1", cx - bw / 4).attr("x2", cx + bw / 4)
                    .attr("y1", y(v)).attr("y2", y(v))
                    .attr("stroke", INK).attr("stroke-width", 1.8);
            });
            b.append("rect").attr("x", cx - bw / 2).attr("width", bw)
                .attr("y", y(s.q3[i])).attr("height", y(s.q1[i]) - y(s.q3[i]))
                .attr("fill", "#fff").attr("stroke", INK).attr("stroke-width", 1.7);
            b.append("line").attr("x1", cx - bw / 2).attr("x2", cx + bw / 2)
                .attr("y1", y(m)).attr("y2", y(m))
                .attr("stroke", "#000").attr("stroke-width", 6.5);
            b.selectAll(".out").data(s.out[i]).join("circle").attr("class", "out")
                .attr("cx", cx).attr("cy", d => y(d)).attr("r", 3.4)
                .attr("fill", "none").attr("stroke", INK).attr("stroke-width", 1.5);
        });
    }

    const fmtG = d3.format("~g");
    const resTicks = [-3, -2, -1, 0, 1, 2];

    // ---------- (1)
    {
        const h = 289;
        const g = panel(103, 14);
        const x = d3.scaleLinear().domain([-2, 0]).range([0, W]);
        const y = d3.scaleLinear().domain([-3, 2]).range([h, 0]);
        frame(g, x, y, h, {
            xTicks: [-2, -1.5, -1, -0.5, 0], xFmt: fmtG, yTicks: resTicks, yFmt: fmtG,
            top: [-1.5, -1, -0.5], right: [-2, -1, 0, 1], label: "(1)"
        });
        zeroLine(g, y);
        dots(g, x, y, p1Points, 3.2);
        xTitle(["Est. Conc. in natural log units"], 303, 391);
        yTitle(["Residual"], 23, 158);
    }

    // ---------- (2)
    {
        const h = 289;
        const g = panel(635, 14);
        const x = d3.scaleLog().domain([0.01, 10]).range([0, W]);
        const y = d3.scaleLinear().domain([-3, 2]).range([h, 0]);
        frame(g, x, y, h, {
            xTicks: [0.01, 0.1, 1, 10], xFmt: fmtG, yTicks: resTicks, yFmt: fmtG,
            top: [0.1, 1], right: [-2, -1, 0, 1], label: "(2)"
        });
        zeroLine(g, y);
        dots(g, x, y, p2Points, 3.2);
        xTitle(["Discharge (10", {sup: "3"}, "ft", {sup: "3"}, "/s)"], 835, 386);
        yTitle(["Residual"], 543, 158);
    }

    // ---------- (3)
    {
        const h = 289;
        const g = panel(103, 434);
        const x = d3.scaleLinear().domain([2000, 2020]).range([0, W]);
        const y = d3.scaleLinear().domain([-3, 2]).range([h, 0]);
        frame(g, x, y, h, {
            xTicks: [2000, 2005, 2010, 2015, 2020], xFmt: d3.format("d"), yTicks: resTicks, yFmt: fmtG,
            top: [2005, 2010, 2015], right: [-2, -1, 0, 1], label: "(3)"
        });
        zeroLine(g, y);
        dots(g, x, y, p3Points, 3.2);
        yTitle(["Residual"], 23, 578);
    }

    // ---------- (4)
    {
        const h = 289;
        const g = panel(635, 434);
        const x = d3.scaleLinear().domain([-0.02, 13.02]).range([0, W]);
        const y = d3.scaleLinear().domain([-2.52, 1.63]).range([h, 0]);
        frame(g, x, y, h, {
            xTicks: d3.range(1, 13), xFmt: (d, i) => p4Shown[i], yTicks: [-2, -1, 0, 1], yFmt: fmtG,
            label: "(4)"
        });
        zeroLine(g, y);
        boxes(g, x, y, {n: p4N, lo: p4Lo, q1: p4Q1, med: p4Med, q3: p4Q3, hi: p4Hi, out: p4Out});
        xTitle(["Month"], 835, 811);
        yTitle(["Residuals"], 543, 578);
    }

    // ---------- (5)
    {
        const h = 291;
        const g = panel(103, 853);
        const x = d3.scaleLinear().domain([0.38, 3.62]).range([0, W]);
        const y = d3.scaleLinear().domain([0, 1.2]).range([h, 0]);
        frame(g, x, y, h, {
            xTicks: [1, 2, 3], xFmt: "", yTicks: [0, 0.2, 0.4, 0.6, 0.8, 1.0, 1.2], yFmt: d3.format(".1f"),
            top: [1, 2, 3], right: [0.2, 0.4, 0.6, 0.8, 1.0], label: "(5)"
        });
        boxes(g, x, y, {n: p5N, lo: p5Lo, q1: p5Q1, med: p5Med, q3: p5Q3, hi: p5Hi, out: p5Out});
        p5Groups.forEach((lines, i) => {
            const t = g.append("text").attr("x", x(i + 1)).attr("y", h + 17)
                .attr("text-anchor", "middle").attr("font-size", 13)
                .attr("letter-spacing", -0.4);
            lines.forEach((l, j) => t.append("tspan").attr("x", x(i + 1)).attr("dy", j ? 15 : 0).text(l));
        });
        yTitle(["Conc. (mg/l as P)"], 30, 998);
    }

    // ---------- (6)
    {
        const h = 291;
        const g = panel(635, 853);
        const x = d3.scaleLinear().domain([0, 1.2]).range([0, W]);
        const y = d3.scaleLinear().domain([0, 1.4]).range([h, 0]);
        frame(g, x, y, h, {
            xTicks: [0, 0.2, 0.4, 0.6, 0.8, 1, 1.2], xFmt: fmtG,
            yTicks: [0, 0.2, 0.4, 0.6, 0.8, 1, 1.2, 1.4], yFmt: fmtG,
            top: [0.2, 0.4, 0.6, 0.8, 1], right: [0.2, 0.4, 0.6, 0.8, 1, 1.2], label: "(6)"
        });
        g.append("line").attr("x1", x(0)).attr("y1", y(0)).attr("x2", x(1.2)).attr("y2", y(1.2))
            .attr("stroke", INK).attr("stroke-width", 1.4);
        dots(g, x, y, p6Points, 3);
        xTitle(["Est. Conc."], 835, 1231);
        yTitle(["Obs. Conc."], 553, 998);
    }

    // ---------- (7)
    {
        const h = 290;
        const g = panel(103, 1274);
        const x = d3.scaleLinear().domain([0.42, 2.58]).range([0, W]);
        const y = d3.scaleLog().domain([0.01, 100]).range([h, 0]);
        frame(g, x, y, h, {
            xTicks: [1, 2], xFmt: (d, i) => p7Groups[i], yTicks: [0.01, 0.1, 1, 10, 100], yFmt: fmtG,
            label: "(7)"
        });
        g.selectAll(".tick text").filter(d => d === 1 || d === 2).attr("font-size", null);
        boxes(g, x, y, {n: p7N, lo: p7Lo, q1: p7Q1, med: p7Med, q3: p7Q3, hi: p7Hi, out: p7Out});
        yTitle(["Discharge (10", {sup: "3"}, "ft", {sup: "3"}, "/s)"], 22, 1419);
    }

    // ---------- (8)
    {
        const h = 290;
        const g = panel(635, 1274);
        const x = d3.scaleLinear().domain([0, 8]).range([0, W]);
        const y = d3.scaleLinear().domain([0, 20]).range([h, 0]);
        frame(g, x, y, h, {
            xTicks: [0, 2, 4, 6, 8], xFmt: fmtG, yTicks: [0, 5, 10, 15, 20], yFmt: fmtG,
            top: [2, 4, 6], right: [5, 10, 15], label: "(8)"
        });
        g.append("line").attr("x1", x(0)).attr("y1", y(0)).attr("x2", x(8)).attr("y2", y(8))
            .attr("stroke", INK).attr("stroke-width", 1.4);
        dots(g, x, y, p8Points, 2.7);
        xTitle(["Est. Flux (tons/d)"], 835, 1645);
        yTitle(["Obs. Flux (tons/d)"], 553, 1419);
    }
</script>
</body>
</html>
